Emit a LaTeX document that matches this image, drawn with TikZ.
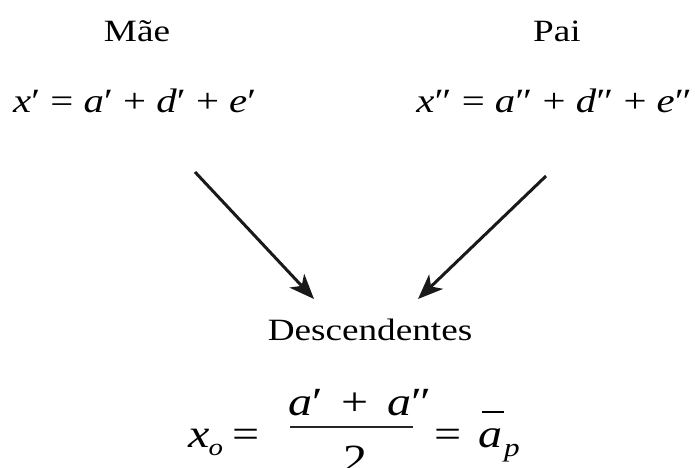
\documentclass[tikz,border=0pt]{standalone}
\usepackage{fontspec}
\setmainfont{Liberation Serif}[FakeStretch=1.2]
\usetikzlibrary{arrows.meta}
\newcommand{\iv}[1]{\textit{#1}}
\tikzset{
  lbl/.style={inner sep=0pt, font=\fontsize{31}{36}\selectfont},
  eqtop/.style={inner sep=0pt, font=\fontsize{34}{40}\selectfont},
  eqbot/.style={inner sep=0pt, font=\fontsize{40}{48}\selectfont},
  arr/.style={line width=3pt, -{Stealth[length=25pt,width=20pt,inset=7pt]}, color=black!90}
}
\begin{document}
\begin{tikzpicture}[x=1pt,y=-1pt]
\useasboundingbox (0,0) rectangle (695,467);
\clip (0,0) rectangle (695,467);
% labels
\node[lbl, anchor=base] (mae) at (137,41) {Mãe};
\node[lbl, anchor=base] (pai) at (557,41) {Pai};
\node[lbl, anchor=base] (desc) at (370,340) {Descendentes};
% top formulas
\node[eqtop, anchor=base west] (eqm) at (13,112) {\iv{x}′ = \iv{a}′ + \iv{d}′ + \iv{e}′};
\node[eqtop, anchor=base east] (eqp) at (692,112) {\iv{x}″ = \iv{a}″ + \iv{d}″ + \iv{e}″};
% arrows
\coordinate (ls) at (195,172);
\coordinate (le) at (314,299);
\coordinate (rs) at (546,176);
\coordinate (re) at (418,299);
\draw[arr] (ls) -- (le);
\draw[arr] (rs) -- (re);
% bottom formula
\node[eqbot, anchor=base west] (xo) at (188,447) {\iv{x}\kern-1pt\raisebox{-0.22em}{\fontsize{24}{24}\selectfont\iv{o}}};
\node[eqbot, anchor=base west] (eq1) at (232,447) {=};
\node[eqbot, anchor=base west] (num) at (288,415) {\iv{a}′ \,+\, \iv{a}″};
\draw[line width=1.8pt, color=black!85] (290,427) -- (413,427);
\node[eqbot, anchor=base] (den) at (355,472) {2};
\node[eqbot, anchor=base west] (eq2) at (434,447) {=};
\node[eqbot, anchor=base west] (abar) at (478,447) {\makebox[0pt][l]{\kern4pt\raisebox{34pt}{\rule{22pt}{1.8pt}}}\iv{a}};
\node[anchor=base west, inner sep=0pt, font=\fontsize{26}{26}\selectfont] (sub) at (504,456) {\iv{p}};
\end{tikzpicture}
\end{document}
